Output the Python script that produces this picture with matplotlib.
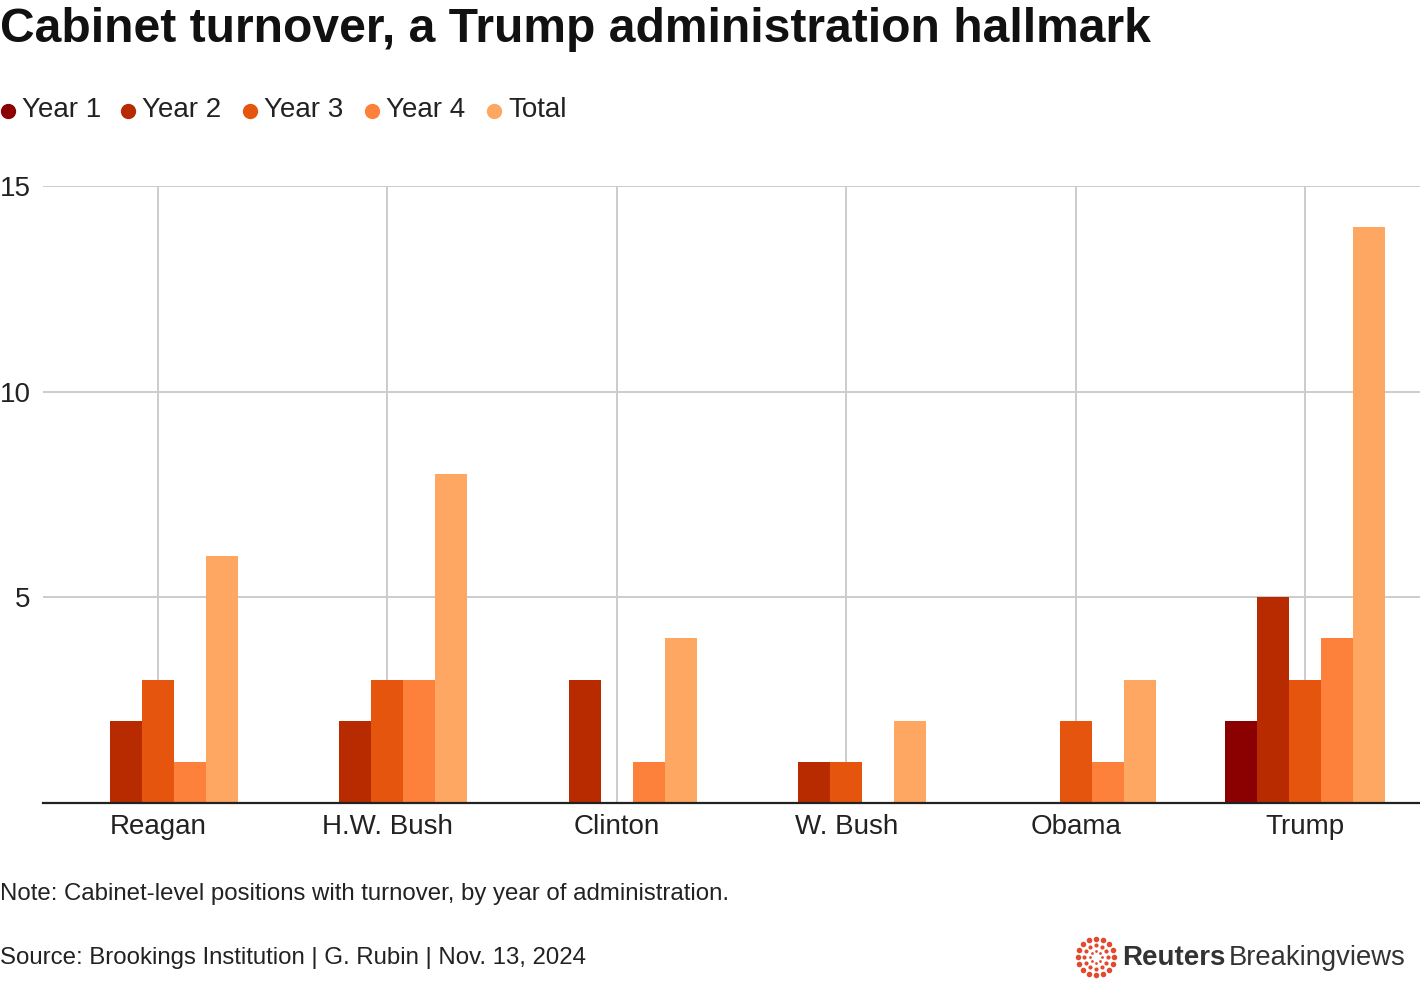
import matplotlib.pyplot as plt
from matplotlib.lines import Line2D
import numpy as np

presidents = ['Reagan', 'H.W. Bush', 'Clinton', 'W. Bush', 'Obama', 'Trump']
series_names = ['Year 1', 'Year 2', 'Year 3', 'Year 4', 'Total']
year1 = [0, 0, 0, 0, 0, 2]
year2 = [2, 2, 3, 1, 0, 5]
year3 = [3, 3, 0, 1, 2, 3]
year4 = [1, 3, 1, 0, 1, 4]
total = [6, 8, 4, 2, 3, 14]
yticks = [5, 10, 15]

colors = ['#8b0000', '#b82a00', '#e6550d', '#fd813b', '#fda762']

plt.rcParams['font.family'] = ['Liberation Sans', 'DejaVu Sans']

fig = plt.figure(figsize=(14.2, 10.06), dpi=100)
ax = fig.add_axes([43 / 1420, 1 - 803 / 1006, 1 - 43 / 1420, (803 - 186) / 1006])

x = np.arange(len(presidents))
bw = 32 / 229.5
series = [year1, year2, year3, year4, total]
for i, vals in enumerate(series):
    ax.bar(x + (i - 2) * bw, vals, width=bw, color=colors[i], zorder=3)

ax.set_xlim(-0.5, len(presidents) - 0.5)
ax.set_ylim(0, 15)
ax.set_yticks(yticks)
ax.set_xticks(x)
ax.set_xticklabels(presidents, fontsize=20, color='#222222')
ax.tick_params(axis='y', length=0, labelsize=20, labelcolor='#222222', pad=9)
ax.tick_params(axis='x', length=0, pad=8)
for s in ['top', 'right', 'left']:
    ax.spines[s].set_visible(False)
ax.spines['bottom'].set_color('#222222')
ax.spines['bottom'].set_linewidth(1.6)
ax.spines['bottom'].set_zorder(4)
ax.grid(True, color='#cccccc', linewidth=1.4, zorder=0)
ax.set_axisbelow(True)

fig.text(0.0, 1 - 42 / 1006, 'Cabinet turnover, a Trump administration hallmark',
         fontsize=34.6, fontweight='bold', color='#111111', va='baseline')

# legend
lx = [8, 128, 250, 372, 494]
for i, name in enumerate(series_names):
    fig.add_artist(Line2D([lx[i] / 1420], [1 - 111 / 1006], marker='o', ms=10,
                          color=colors[i], linestyle='none', transform=fig.transFigure))
    fig.text((lx[i] + 14) / 1420, 1 - 110 / 1006, name, fontsize=20, color='#222222',
             va='center')

fig.text(0.0, 1 - 894 / 1006, 'Note: Cabinet-level positions with turnover, by year of administration.',
         fontsize=17.25, color='#222222', va='center')
fig.text(0.0, 1 - 958 / 1006, 'Source: Brookings Institution | G. Rubin | Nov. 13, 2024',
         fontsize=17.25, color='#222222', va='center')

# logo
cx, cy = 1096, 957
for r, n, s in [(18, 16, 16), (12, 12, 9), (6, 8, 4)]:
    ang = np.linspace(0, 2 * np.pi, n, endpoint=False)
    pts_x = (cx + r * np.cos(ang)) / 1420
    pts_y = 1 - (cy + r * np.sin(ang)) / 1006
    ax.scatter(pts_x, pts_y, s=s, color='#e04a2f', transform=fig.transFigure,
               clip_on=False, zorder=5, linewidths=0)
fig.text(1122 / 1420, 1 - 958 / 1006, 'Reuters', fontsize=20, fontweight='bold',
         color='#333333', va='center')
fig.text(1229 / 1420, 1 - 958 / 1006, 'Breakingviews', fontsize=19.7,
         color='#333333', va='center')

fig.savefig('out.png', dpi=100, facecolor='white')
